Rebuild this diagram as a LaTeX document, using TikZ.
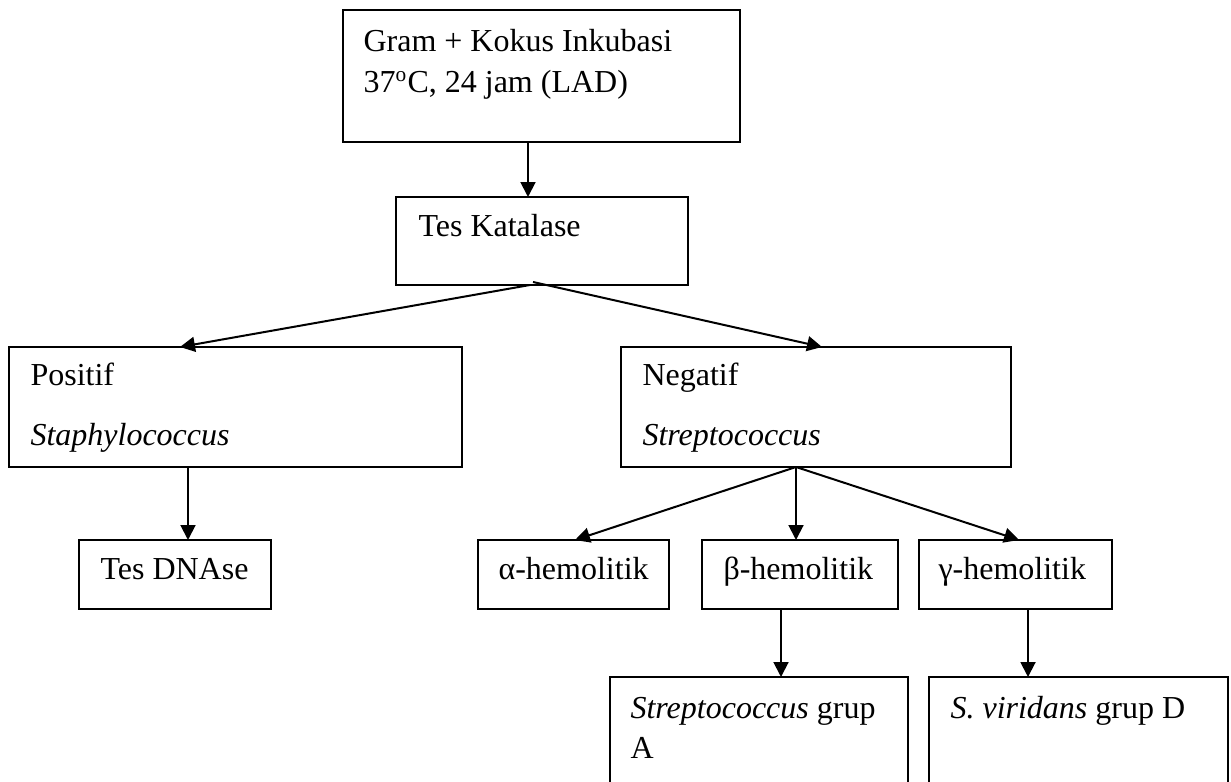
\documentclass[tikz,border=0pt]{standalone}
\usepackage{fontspec}
\setmainfont{Liberation Serif}
\usetikzlibrary{arrows.meta,fit}
\tikzset{
  box/.style={draw, line width=0.75pt, inner sep=0pt, outer sep=0pt},
  lbl/.style={anchor=base west, inner sep=0pt, font=\fontsize{12}{14}\selectfont},
  arr/.style={line width=0.75pt, -{Triangle[length=5.6pt,width=5.6pt]}},
}
\begin{document}
\begin{tikzpicture}[x=0.375pt, y=-0.375pt]
\useasboundingbox (0,0) rectangle (1231,782);
\fill[white] (0,0) rectangle (1231,782);
\clip (0,0) rectangle (1231,782);
% boxes
\node[box, fit={(343,10) (740,142)}] (b1) {};
\node[box, fit={(396,197) (688,285)}] (tk) {};
\node[box, fit={(9,347) (462,467)}] (pos) {};
\node[box, fit={(621,347) (1011,467)}] (neg) {};
\node[box, fit={(79,540) (271,609)}] (dna) {};
\node[box, fit={(478,540) (669,609)}] (alf) {};
\node[box, fit={(702,540) (898,609)}] (bet) {};
\node[box, fit={(919,540) (1112,609)}] (gam) {};
\node[box, fit={(610,677) (908,800)}] (sa) {};
\node[box, fit={(929,677) (1228,800)}] (sv) {};
% texts
\node[lbl] (t1a) at (363,52) {Gram + Kokus Inkubasi};
\node[lbl] (t1b) at (363,93) {37\textsuperscript{o}C, 24 jam (LAD)};
\node[lbl] (t2) at (418,237) {Tes Katalase};
\node[lbl] (t3a) at (30,386) {Positif};
\node[lbl] (t3b) at (30,446) {\textit{Staphylococcus}};
\node[lbl] (t4a) at (642,386) {Negatif};
\node[lbl] (t4b) at (642,446) {\textit{Streptococcus}};
\node[lbl] (t5) at (100,580) {Tes DNAse};
\node[lbl] (t6) at (498,580) {α-hemolitik};
\node[lbl] (t7) at (723,580) {β-hemolitik};
\node[lbl] (t8) at (938,580) {γ-hemolitik};
\node[lbl] (t9a) at (630,718) {\textit{Streptococcus} grup};
\node[lbl] (t9b) at (630,759) {A};
\node[lbl] (t10) at (950,718) {\textit{S. viridans} grup D};
% connectors
\draw[arr] ([shift={(-13.5,0)}]b1.south) -- ([shift={(-14,0)}]tk.north);
\draw[arr] ([shift={(-12,0)}]tk.south) -- ([shift={(-55.5,0)}]pos.north);
\draw[arr] ([shift={(-9,-3)}]tk.south) -- ([shift={(6,0)}]neg.north);
\draw[arr] ([shift={(-47.5,0)}]pos.south) -- ([shift={(13,0)}]dna.north);
\draw[arr] ([shift={(-20,0)}]neg.south) -- ([shift={(1.5,0)}]alf.north);
\draw[arr] ([shift={(-20,0)}]neg.south) -- ([shift={(-4,0)}]bet.north);
\draw[arr] ([shift={(-20,0)}]neg.south) -- ([shift={(3.5,0)}]gam.north);
\draw[arr] ([shift={(-19,0)}]bet.south) -- ([shift={(22,0)}]sa.north);
\draw[arr] ([shift={(12.5,0)}]gam.south) -- ([shift={(-50.5,0)}]sv.north);
\end{tikzpicture}
\end{document}
